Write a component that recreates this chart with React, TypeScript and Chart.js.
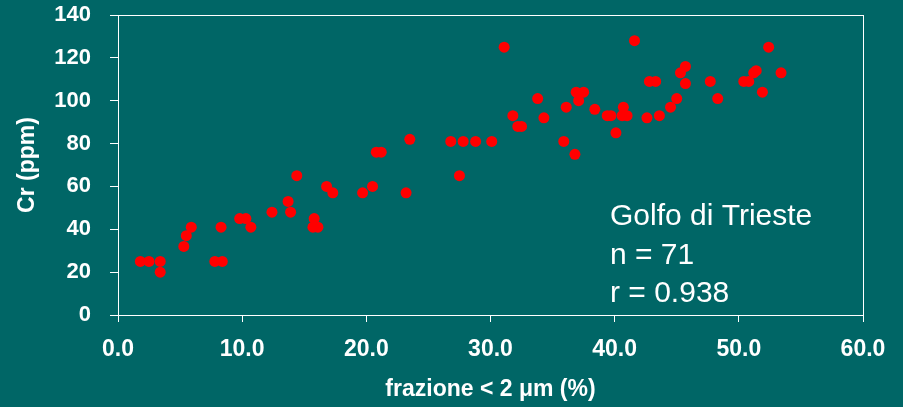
import React, { useEffect, useRef } from "react";
import { Chart, registerables } from "chart.js";

Chart.register(...registerables);

// Fraction < 2 µm (%) for each sample
const clayFraction: number[] = [
  1.8, 2.5, 3.4, 3.4, 5.3, 5.5, 5.9, 7.8, 8.4, 8.3, 9.8, 10.3, 10.7, 12.4, 13.7, 13.9, 14.4,
  15.8, 15.7, 16.1, 16.8, 17.3, 19.7, 20.5, 20.8, 21.2, 23.5, 23.2, 26.8, 27.8, 27.5,
  28.8, 30.1, 31.1, 31.8, 32.2, 32.5, 33.8, 34.3, 35.9, 36.1, 36.8, 36.9, 37.5, 37.1, 38.4,
  39.4, 39.7, 40.1, 40.7, 40.6, 41.0, 41.6,
  42.6, 42.8, 43.3, 43.6, 44.5, 45.0, 45.3, 45.7, 45.7, 47.7, 48.3, 50.4, 50.8, 51.2, 51.4,
  51.9, 52.4, 53.4,
];

// Cr (ppm) for each sample
const chromium: number[] = [
  25, 25, 25, 20, 32, 37, 41, 25, 25, 41, 45, 45, 41, 48, 53, 48, 65,
  45, 41, 41, 60, 57, 57, 60, 76, 76, 82, 57, 81, 81, 65,
  81, 81, 125, 93, 88, 88, 101, 92, 81, 97, 75, 104, 104, 100, 96, 93, 93, 85, 97, 93, 93, 128,
  92, 109, 109, 93, 97, 101, 113, 116, 108, 109, 101, 109, 109, 113, 114, 104, 125, 113,
];

const xAxisTitle = "frazione < 2 \u03bcm (%)";
const yAxisTitle = "Cr (ppm)";
const annotationLines: string[] = ["Golfo di Trieste", "n = 71", "r = 0.938"];

const FONT = "'Liberation Sans', Arial, sans-serif";
const BG = "#006666";

const plotFrame = {
  id: "plotFrame",
  beforeDatasetsDraw(chart: any) {
    const { ctx, chartArea } = chart;
    const l = Math.floor(chartArea.left);
    const t = Math.floor(chartArea.top);
    const r = Math.floor(chartArea.right);
    const b = Math.floor(chartArea.bottom);
    ctx.save();
    ctx.strokeStyle = "#ffffff";
    ctx.lineWidth = 1;
    ctx.strokeRect(l + 0.5, t + 0.5, r - l, b - t);
    ctx.restore();
  },
};

const annotation = {
  id: "annotationText",
  afterDraw(chart: any) {
    const { ctx } = chart;
    ctx.save();
    ctx.fillStyle = "#ffffff";
    ctx.font = `30px ${FONT}`;
    ctx.textAlign = "left";
    ctx.textBaseline = "alphabetic";
    const x = 610;
    const y0 = 225;
    annotationLines.forEach((line, i) => {
      ctx.fillText(line, x, y0 + i * 38.5);
    });
    ctx.restore();
  },
};

export default function App() {
  const canvasRef = useRef<HTMLCanvasElement | null>(null);

  useEffect(() => {
    document.body.style.margin = "0";
    const canvas = canvasRef.current;
    if (!canvas) return;
    const points = clayFraction.map((x, i) => ({ x, y: chromium[i] }));
    const chart = new Chart(canvas, {
      type: "scatter",
      data: {
        datasets: [
          {
            data: points,
            backgroundColor: "#ff0000",
            borderColor: "#ff0000",
            borderWidth: 0,
            pointRadius: 5.5,
            pointHoverRadius: 5.5,
          },
        ],
      },
      plugins: [plotFrame, annotation],
      options: {
        animation: false,
        responsive: true,
        maintainAspectRatio: false,
        layout: { padding: { left: 0, top: 15, right: 40, bottom: 0 } },
        plugins: {
          legend: { display: false },
          tooltip: { enabled: false },
        },
        scales: {
          x: {
            type: "linear",
            position: "bottom",
            min: 0,
            max: 60,
            afterFit: (scale: any) => {
              scale.height = 92;
              scale.paddingLeft = 0;
              scale.paddingRight = 0;
            },
            ticks: {
              stepSize: 10,
              color: "#ffffff",
              padding: 14,
              font: { family: FONT, size: 23, weight: "bold" },
              callback: (v: any) => Number(v).toFixed(1),
            },
            grid: {
              drawOnChartArea: false,
              drawTicks: true,
              tickLength: 7,
              color: "#ffffff",
              lineWidth: 1,
            },
            border: { display: true, color: "#ffffff", width: 1 },
            title: {
              display: true,
              text: xAxisTitle,
              color: "#ffffff",
              font: { family: FONT, size: 23, weight: "bold" },
              padding: { top: 0, bottom: 4 },
            },
          },
          y: {
            type: "linear",
            min: 0,
            max: 140,
            afterFit: (scale: any) => {
              scale.width = 118;
              scale.paddingTop = 0;
              scale.paddingBottom = 0;
            },
            ticks: {
              stepSize: 20,
              color: "#ffffff",
              padding: 19,
              font: { family: FONT, size: 22, weight: "bold" },
            },
            grid: {
              drawOnChartArea: false,
              drawTicks: true,
              tickLength: 8,
              color: "#ffffff",
              lineWidth: 1,
            },
            border: { display: true, color: "#ffffff", width: 1 },
            title: {
              display: true,
              text: yAxisTitle,
              color: "#ffffff",
              font: { family: FONT, size: 23, weight: "bold" },
              padding: { top: 14, bottom: 0 },
            },
          },
        },
      },
    } as any);
    return () => chart.destroy();
  }, []);

  return (
    <div style={{ width: 903, height: 407, background: BG, position: "relative" }}>
      <canvas ref={canvasRef} />
    </div>
  );
}
